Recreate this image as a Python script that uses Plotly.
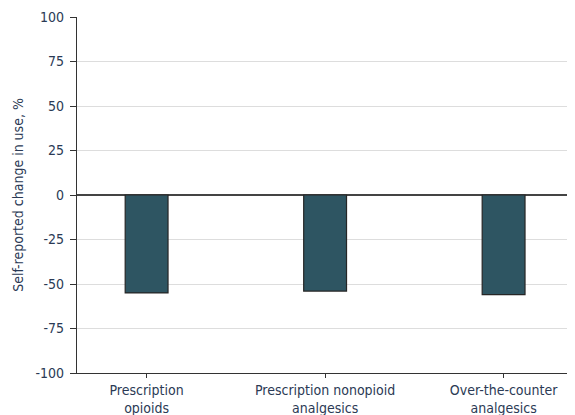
import plotly.graph_objects as go

categories = ["Prescription<br>opioids", "Prescription nonopioid<br>analgesics", "Over-the-counter<br>analgesics"]
values = [-55, -54, -56]
y_ticks = [-100, -75, -50, -25, 0, 25, 50, 75, 100]
y_ticktext = ["-100", "-75", "-50", "-25", "0", "25", "50", "75", "100"]

font_family = "Liberation Sans Narrow, DejaVu Sans Condensed, Arial Narrow, sans-serif"
text_color = "#2b3a55"

fig = go.Figure()
fig.add_trace(go.Bar(
    x=list(range(len(categories))), y=values,
    width=0.24,
    marker=dict(color="#2e5562", line=dict(color="#262626", width=1.2)),
    hoverinfo="skip",
))

# page body adds ~8px offset; size the figure to fill the 575x415 window
fig.update_layout(
    width=567, height=407,
    margin=dict(l=69, r=0, t=9, b=42),
    paper_bgcolor="white", plot_bgcolor="white",
    showlegend=False,
    font=dict(family=font_family, size=13, color=text_color),
    xaxis=dict(
        range=[-0.39, 2.40],
        tickvals=list(range(len(categories))), ticktext=categories,
        showgrid=False, zeroline=False,
        showline=True, linecolor="#333333", linewidth=1.2,
        ticks="outside", ticklen=4, tickcolor="#333333",
        tickfont=dict(size=14, color=text_color),
        automargin=False,
    ),
    yaxis=dict(
        range=[-100, 100],
        tickvals=y_ticks, ticktext=y_ticktext,
        showgrid=True, gridcolor="#dddddd", gridwidth=1,
        zeroline=True, zerolinecolor="#444444", zerolinewidth=1.5,
        showline=True, linecolor="#333333", linewidth=1.2,
        ticks="outside", ticklen=6, tickcolor="#333333",
        ticklabelstandoff=3,
        tickfont=dict(size=14, color=text_color),
        title=dict(text="Self-reported change in use, %", font=dict(size=14, color=text_color), standoff=8),
        automargin=False,
    ),
)

fig.write_html("out.html")
